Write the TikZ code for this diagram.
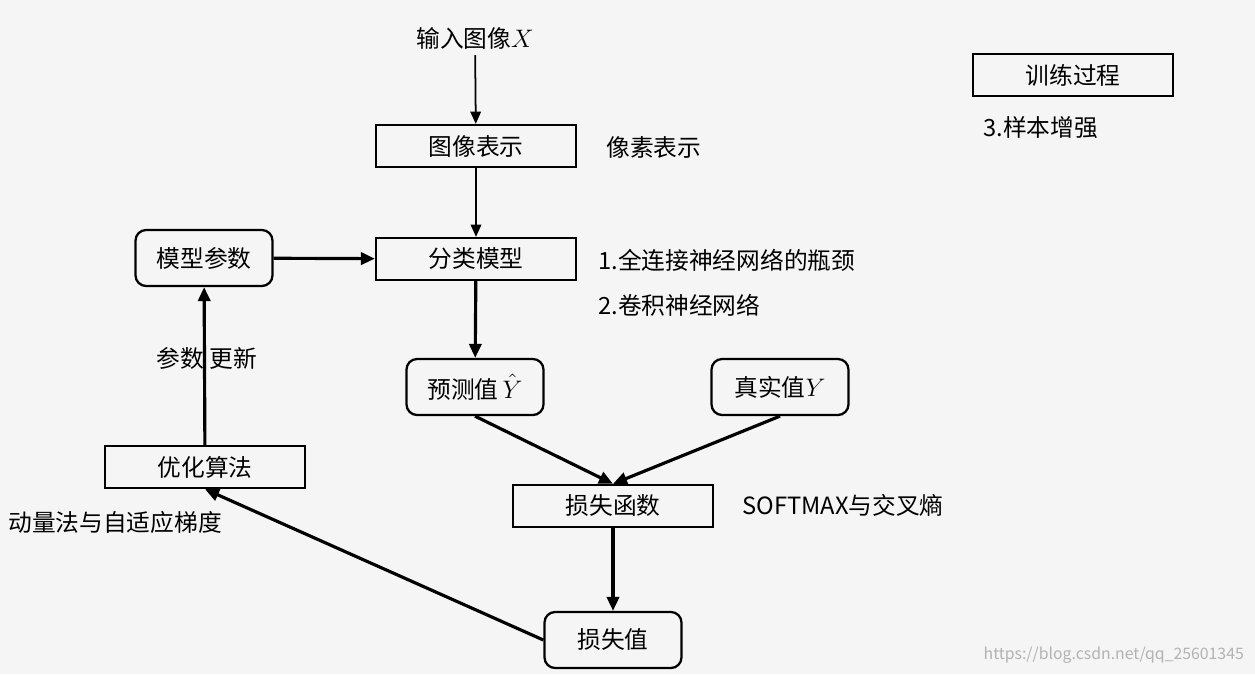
\documentclass[tikz,border=0pt]{standalone}
\usepackage{fontspec}
\setmainfont{Noto Sans CJK SC}
\usetikzlibrary{arrows.meta}
\begin{document}
\begin{tikzpicture}[x=0.02cm,y=-0.02cm,
  font=\fontsize{13.5}{16}\selectfont,
  box/.style={draw,line width=1.3pt,minimum width=4cm,minimum height=0.84cm,inner sep=0pt},
  rbox/.style={draw,line width=1.3pt,rounded corners=6pt,minimum width=2.74cm,minimum height=1.12cm,inner sep=0pt},
  lbl/.style={anchor=west,inner sep=0pt},
  arr/.style={-{Triangle[length=8pt,width=7pt]},line width=1.8pt},
  thin/.style={-{Triangle[length=7pt,width=6pt]},line width=1pt}]
\fill[gray!8] (0,0) rectangle (1255,674);
\node (in) at (475,38) {输入图像$X$};
\node[box] (rep) at (476,146) {图像表示};
\node[lbl] (pix) at (606,147) {像素表示};
\node[box] (cls) at (476,259) {分类模型};
\node[rbox] (par) at (204,258) {模型参数};
\node[lbl] (t1) at (598,260) {1.全连接神经网络的瓶颈};
\node[lbl] (t2) at (598,305) {2.卷积神经网络};
\node[rbox] (pred) at (475,387) {预测值\,$\hat{Y}$};
\node[rbox] (true) at (780,387) {真实值$Y$};
\node[box] (lossf) at (613,506) {损失函数};
\node[lbl] (sm) at (742,505) {SOFTMAX与交叉熵};
\node[rbox] (loss) at (613,640) {损失值};
\node[box] (opt) at (205,467) {优化算法};
\node[lbl] (mom) at (8,522) {动量法与自适应梯度};
\node (upd) at (207,358) {参数 更新};
\node[box] (train) at (1073,75) {训练过程};
\node[lbl] (aug) at (983,128) {3.样本增强};
\node[anchor=south east,text=gray!60,font=\fontsize{9}{10}\selectfont] (wm) at (1250,670) {https://blog.csdn.net/qq\_25601345};
\draw[thin] (in) -- (rep);
\draw[thin] (rep) -- (cls);
\draw[arr] (par) -- (cls);
\draw[arr] (cls) -- (pred);
\draw[arr] (pred.south) -- (lossf.north);
\draw[arr] (true.south) -- (lossf.north);
\draw[arr] (lossf) -- (loss);
\draw[arr] (loss.west) -- (opt.south);
\draw[arr] (opt) -- (par);
\end{tikzpicture}
\end{document}
